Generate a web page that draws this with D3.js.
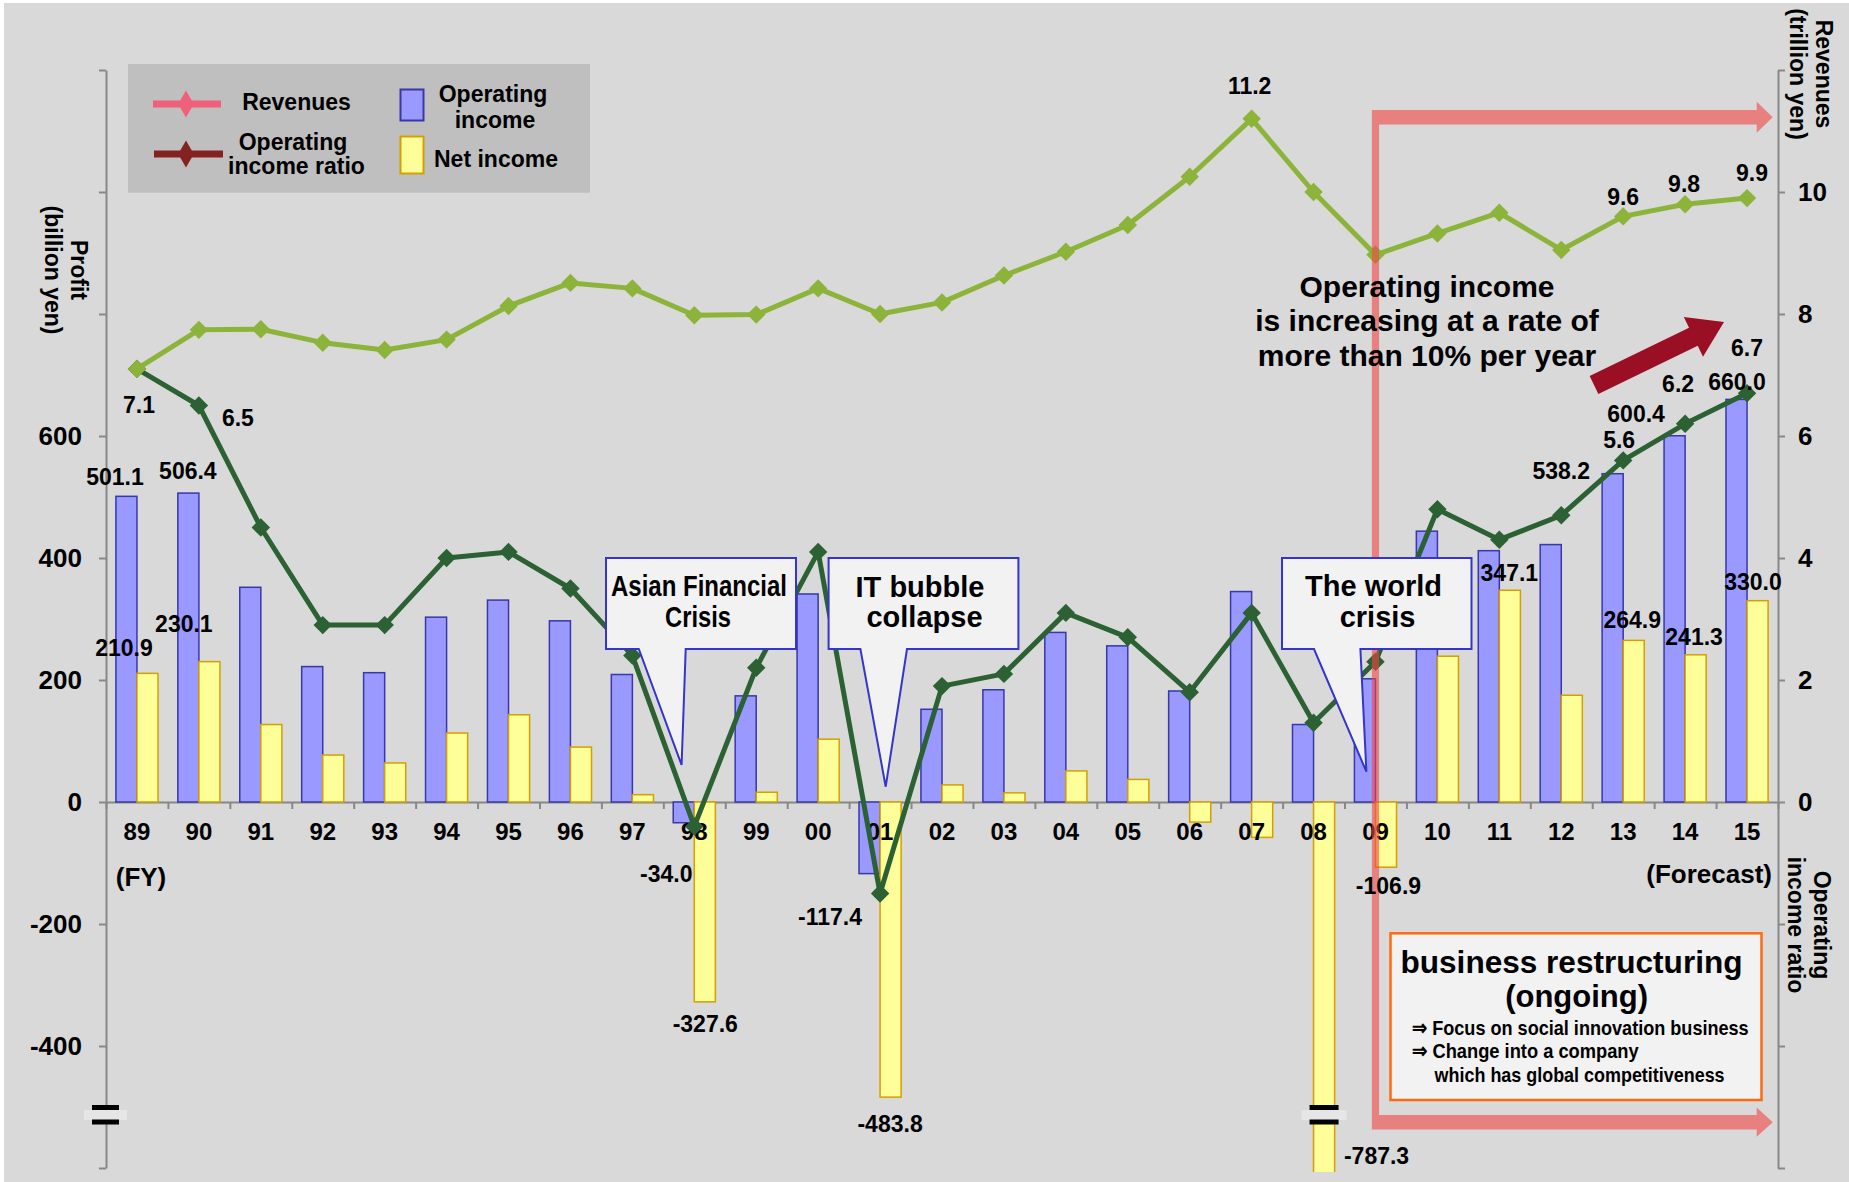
<!DOCTYPE html>
<html>
<head>
<meta charset="utf-8">
<script src="https://cdn.jsdelivr.net/npm/d3@7"></script>
<style>
  body { margin: 0; background: #fff; }
  svg text { font-family: "Liberation Sans", Arial, sans-serif; font-weight: bold; fill: #000; }
</style>
</head>
<body>
<svg id="chart" width="1849" height="1182"></svg>
<script>
// fiscal years
const years = ["89","90","91","92","93","94","95","96","97","98","99","00","01","02","03","04","05","06","07","08","09","10","11","12","13","14","15"];
// billion yen
const operatingIncome = [501.1, 506.4, 352, 222, 212, 303, 331, 297, 209, -34.0, 174, 341, -117.4, 152, 184, 278, 256, 182, 345, 127, 202, 444, 412, 422, 538.2, 600.4, 660.0];
const netIncome = [210.9, 230.1, 127, 77, 64, 113, 143, 90, 12, -327.6, 16, 103, -483.8, 28, 15, 51, 37, -33, -58, -787.3, -106.9, 239, 347.1, 175, 264.9, 241.3, 330.0];
// trillion yen
const revenues = [7.1, 7.74, 7.75, 7.53, 7.41, 7.58, 8.13, 8.51, 8.42, 7.98, 7.99, 8.42, 8.0, 8.19, 8.63, 9.02, 9.46, 10.25, 11.2, 10.0, 8.97, 9.32, 9.66, 9.05, 9.6, 9.8, 9.9];
// percent
const opRatio = [7.1, 6.5, 4.5, 2.9, 2.9, 4.0, 4.1, 3.5, 2.4, -0.4, 2.2, 4.1, -1.5, 1.9, 2.1, 3.1, 2.7, 1.8, 3.1, 1.3, 2.3, 4.8, 4.3, 4.7, 5.6, 6.2, 6.7];

const profitTicks = [-600, -400, -200, 0, 200, 400, 600, 800, 1000, 1200];
const profitTickLabels = [-400, -200, 0, 200, 400, 600];
const revenueTicks = [-6, -4, -2, 0, 2, 4, 6, 8, 10, 12];
const revenueTickLabels = [0, 2, 4, 6, 8, 10];

// which points get a value label: [series, year, dx, dy]
const labelSpecs = [
  ["rev", "07", -2, -25], ["rev", "13", 0, -11], ["rev", "14", -1, -12], ["rev", "15", 5, -17],
  ["ratio", "89", 2, 44], ["ratio", "90", 39, 20], ["ratio", "13", -4, -12], ["ratio", "14", -7, -32], ["ratio", "15", 0, -37],
  ["oi", "89", -22, -11], ["oi", "90", -11, -14], ["oi", "98", -28, 59], ["oi", "01", -50, 51],
  ["oi", "13", -62, 5], ["oi", "14", -49, -14], ["oi", "15", -10, -9],
  ["ni", "89", -13, -17], ["ni", "90", -15, -30], ["ni", "98", 11, 30], ["ni", "01", 10, 35],
  ["ni", "09", 13, 27], ["ni", "08", 63, -8], ["ni", "11", 10, -9], ["ni", "13", 9, -12],
  ["ni", "14", 9, -10], ["ni", "15", 6, -11]
];

const svg = d3.select("#chart");
const FONT = '"Liberation Sans", Arial, sans-serif';
const left = 106, right = 1778, clipBottom = 1172;

// background
svg.append("rect").attr("x", 4).attr("y", 3).attr("width", 1849).attr("height", 1182).attr("fill", "#d9d9d9");

// scales
const x = d3.scaleBand().domain(years).range([left, right]);
const bw = x.bandwidth();
const xSub = d3.scaleBand().domain(["oi", "ni"]).range([bw * 0.16, bw * 0.84]);
const xEdge = d3.scaleLinear().domain([0, years.length]).range([left, right]);
const yL = d3.scaleLinear().domain([-600, 1200]).range([1168, 70]);
const yR = d3.scaleLinear().domain([-6, 12]).range([1168, 70]);
const cx = d => x(d) + bw / 2;

svg.append("clipPath").attr("id", "plotClip")
  .append("rect").attr("x", 0).attr("y", 0).attr("width", 1849).attr("height", clipBottom);

// axes
function styleAxis(g, size) {
  g.attr("font-family", FONT).attr("font-weight", "bold").attr("font-size", size);
  g.selectAll(".domain").attr("stroke", "#888").attr("stroke-width", 2);
  g.selectAll(".tick line").attr("stroke", "#888").attr("stroke-width", 2);
  g.selectAll(".tick text").attr("fill", "#000");
}

svg.append("g").attr("transform", `translate(${left},0)`)
  .call(d3.axisLeft(yL).tickValues(profitTicks).tickSize(7).tickSizeOuter(0).tickPadding(17)
    .tickFormat(d => profitTickLabels.includes(d) ? d : ""))
  .call(g => styleAxis(g, 26));

svg.append("g").attr("transform", `translate(${right},0)`)
  .call(d3.axisRight(yR).tickValues(revenueTicks).tickSize(7).tickSizeOuter(0).tickPadding(13)
    .tickFormat(d => revenueTickLabels.includes(d) ? d : ""))
  .call(g => styleAxis(g, 26));

svg.append("g").attr("transform", `translate(0,${yL(0)})`)
  .call(d3.axisBottom(xEdge).tickValues(d3.range(years.length + 1)).tickSize(7).tickSizeOuter(0).tickFormat(""))
  .call(g => styleAxis(g, 24));

// bars
const barData = [];
years.forEach((yr, i) => {
  barData.push({ yr, key: "oi", v: operatingIncome[i] });
  barData.push({ yr, key: "ni", v: netIncome[i] });
});
svg.append("g").attr("clip-path", "url(#plotClip)")
  .selectAll("rect").data(barData).join("rect")
  .attr("x", d => x(d.yr) + xSub(d.key))
  .attr("width", xSub.bandwidth())
  .attr("y", d => yL(Math.max(0, d.v)))
  .attr("height", d => Math.abs(yL(d.v) - yL(0)))
  .attr("fill", d => d.key === "oi" ? "#9999ff" : "#ffff99")
  .attr("stroke", d => d.key === "oi" ? "#3838a8" : "#d4a000")
  .attr("stroke-width", 1.5);

// year labels sit on top of the bars
svg.append("g").attr("transform", `translate(0,${yL(0)})`)
  .call(d3.axisBottom(x).tickSize(0).tickPadding(21))
  .call(g => { styleAxis(g, 24); g.select(".domain").remove(); });

// lines
const diamond = d3.symbol().type(d3.symbolSquare).size(170);
function drawLine(values, color) {
  const pts = years.map((yr, i) => [cx(yr), yR(values[i])]);
  svg.append("path").attr("d", d3.line()(pts))
    .attr("fill", "none").attr("stroke", color).attr("stroke-width", 5).attr("stroke-linejoin", "round");
  svg.append("g").selectAll("path").data(pts).join("path")
    .attr("d", diamond)
    .attr("transform", d => `translate(${d[0]},${d[1]}) rotate(45)`)
    .attr("fill", color);
}
drawLine(opRatio, "#2b6133");
drawLine(revenues, "#8db43a");

// break marks on the axis and on the FY08 bar
function breakMark(x0, x1) {
  const g = svg.append("g");
  g.append("rect").attr("x", x0 - 8).attr("y", 1110).attr("width", x1 - x0 + 16).attr("height", 10).attr("fill", "#e6e6e6");
  g.append("rect").attr("x", x0).attr("y", 1105).attr("width", x1 - x0).attr("height", 5).attr("fill", "#000");
  g.append("rect").attr("x", x0).attr("y", 1119.5).attr("width", x1 - x0).attr("height", 5).attr("fill", "#000");
}
breakMark(92, 119);
breakMark(x("08") + bw / 2 - 4, x("08") + bw / 2 + 25);

// pink bracket for restructuring period
const bx = cx("09");
svg.append("path")
  .attr("d", `M${bx - 3.6},110 H1756.7 V101.7 L1772.7,117.2 L1756.7,132.7 V124.4 H${bx + 3.6} V1115 H1756.7 V1107.6 L1772.7,1122.2 L1756.7,1136.8 V1129.4 H${bx - 3.6} Z`)
  .attr("fill", "rgb(242,69,69)").attr("fill-opacity", 0.6);

// callouts
function callout(box, bl, br, tip, lines) {
  const [x0, y0, x1, y1] = box;
  svg.append("path")
    .attr("d", `M${x0},${y0} H${x1} V${y1} H${br} L${tip[0]},${tip[1]} L${bl},${y1} H${x0} Z`)
    .attr("fill", "#f2f2f2").attr("stroke", "#3535cc").attr("stroke-width", 2);
  lines.forEach(l => {
    const t = svg.append("text").attr("x", l[1]).attr("y", l[2]).attr("text-anchor", "middle")
      .attr("font-size", 29).text(l[0]);
    if (l[3]) t.attr("textLength", l[3]).attr("lengthAdjust", "spacingAndGlyphs");
  });
}
callout([606, 558, 796, 649], 638.8, 685.7, [681.6, 765],
  [["Asian Financial", 699, 596, 176], ["Crisis", 698, 627, 66]]);
callout([828.6, 558, 1018.4, 649], 860.4, 907, [885.7, 786.7],
  [["IT bubble", 920, 597], ["collapse", 924.5, 627]]);
callout([1282, 558, 1471.5, 649], 1314, 1360.4, [1366.4, 771.7],
  [["The world", 1373.6, 596], ["crisis", 1377.6, 627]]);

// business restructuring box
svg.append("rect").attr("x", 1390.5).attr("y", 933.3).attr("width", 371).attr("height", 166.7)
  .attr("fill", "#f2f2f2").attr("stroke", "#ff6a10").attr("stroke-width", 2.5);
svg.append("text").attr("x", 1571.5).attr("y", 973.3).attr("text-anchor", "middle").attr("font-size", 31)
  .attr("textLength", 342).attr("lengthAdjust", "spacingAndGlyphs").text("business restructuring");
svg.append("text").attr("x", 1576.6).attr("y", 1006.7).attr("text-anchor", "middle").attr("font-size", 31).text("(ongoing)");
[["⇒ Focus on social innovation business", 1411.7, 1035, 337],
 ["⇒ Change into a company", 1411.7, 1058.3, 227],
 ["which has global competitiveness", 1434.6, 1081.7, 290]].forEach(l => {
  svg.append("text").attr("x", l[1]).attr("y", l[2]).attr("font-size", 21)
    .attr("textLength", l[3]).attr("lengthAdjust", "spacingAndGlyphs").text(l[0]);
});

// growth note + arrow
["Operating income", "is increasing at a rate of", "more than 10% per year"].forEach((s, i) => {
  svg.append("text").attr("x", 1427).attr("y", 296.7 + i * 34.7).attr("text-anchor", "middle")
    .attr("font-size", 30).text(s);
});
{
  const tail = [1594, 385], tip = [1724, 322];
  const len = Math.hypot(tip[0] - tail[0], tip[1] - tail[1]);
  const u = [(tip[0] - tail[0]) / len, (tip[1] - tail[1]) / len];
  const n = [-u[1], u[0]];
  const neck = [tip[0] - u[0] * 34, tip[1] - u[1] * 34];
  const p = (b, k) => [b[0] + n[0] * k, b[1] + n[1] * k];
  const poly = [p(tail, 10), p(neck, 10), p(neck, 22), tip, p(neck, -22), p(neck, -10), p(tail, -10)];
  svg.append("path").attr("d", "M" + poly.map(q => q.join(",")).join("L") + "Z").attr("fill", "#9b0f25");
}

// value labels
const series = { rev: revenues, ratio: opRatio, oi: operatingIncome, ni: netIncome };
labelSpecs.forEach(([s, yr, dx, dy]) => {
  const i = years.indexOf(yr);
  const v = series[s][i];
  const ay = (s === "rev" || s === "ratio") ? yR(v) : Math.min(yL(v), clipBottom);
  svg.append("text").attr("x", cx(yr) + dx).attr("y", ay + dy).attr("text-anchor", "middle")
    .attr("font-size", 23).text(v.toFixed(1));
});

// axis notes
svg.append("text").attr("x", 141).attr("y", 886).attr("text-anchor", "middle").attr("font-size", 26).text("(FY)");
svg.append("text").attr("x", 1772).attr("y", 883).attr("text-anchor", "end").attr("font-size", 26).text("(Forecast)");

function vTitle(X, Y, l1, l2) {
  const t = svg.append("text").attr("transform", `translate(${X},${Y}) rotate(90)`)
    .attr("text-anchor", "middle").attr("font-size", 23);
  t.append("tspan").attr("x", 0).attr("y", 8).text(l1);
  t.append("tspan").attr("x", 0).attr("y", 34).text(l2);
}
vTitle(79, 270, "Profit", "(billion yen)");
vTitle(1824, 74, "Revenues", "(trillion yen)");
vTitle(1822, 925, "Operating", "income ratio");

// legend
const lg = svg.append("g");
lg.append("rect").attr("x", 128).attr("y", 64).attr("width", 462).attr("height", 128.7).attr("fill", "#bfbfbf");
lg.append("line").attr("x1", 153).attr("x2", 221).attr("y1", 104).attr("y2", 104).attr("stroke", "#f0607a").attr("stroke-width", 7);
lg.append("path").attr("d", d3.symbol().type(d3.symbolDiamond).size(210)).attr("transform", "translate(186,104)").attr("fill", "#f0607a");
lg.append("line").attr("x1", 154).attr("x2", 223).attr("y1", 154).attr("y2", 154).attr("stroke", "#842222").attr("stroke-width", 7);
lg.append("path").attr("d", d3.symbol().type(d3.symbolDiamond).size(210)).attr("transform", "translate(186,154)").attr("fill", "#842222");
lg.append("rect").attr("x", 400.5).attr("y", 89.5).attr("width", 23).attr("height", 31).attr("fill", "#9999ff").attr("stroke", "#3838a8").attr("stroke-width", 2);
lg.append("rect").attr("x", 400.5).attr("y", 136.5).attr("width", 23).attr("height", 37).attr("fill", "#ffff99").attr("stroke", "#d4a000").attr("stroke-width", 2);
[["Revenues", 296.5, 110], ["Operating", 293, 150], ["income ratio", 296.5, 174],
 ["Operating", 493, 102], ["income", 495, 128], ["Net income", 496, 167]].forEach(l => {
  lg.append("text").attr("x", l[1]).attr("y", l[2]).attr("text-anchor", "middle").attr("font-size", 23).text(l[0]);
});
</script>
</body>
</html>
